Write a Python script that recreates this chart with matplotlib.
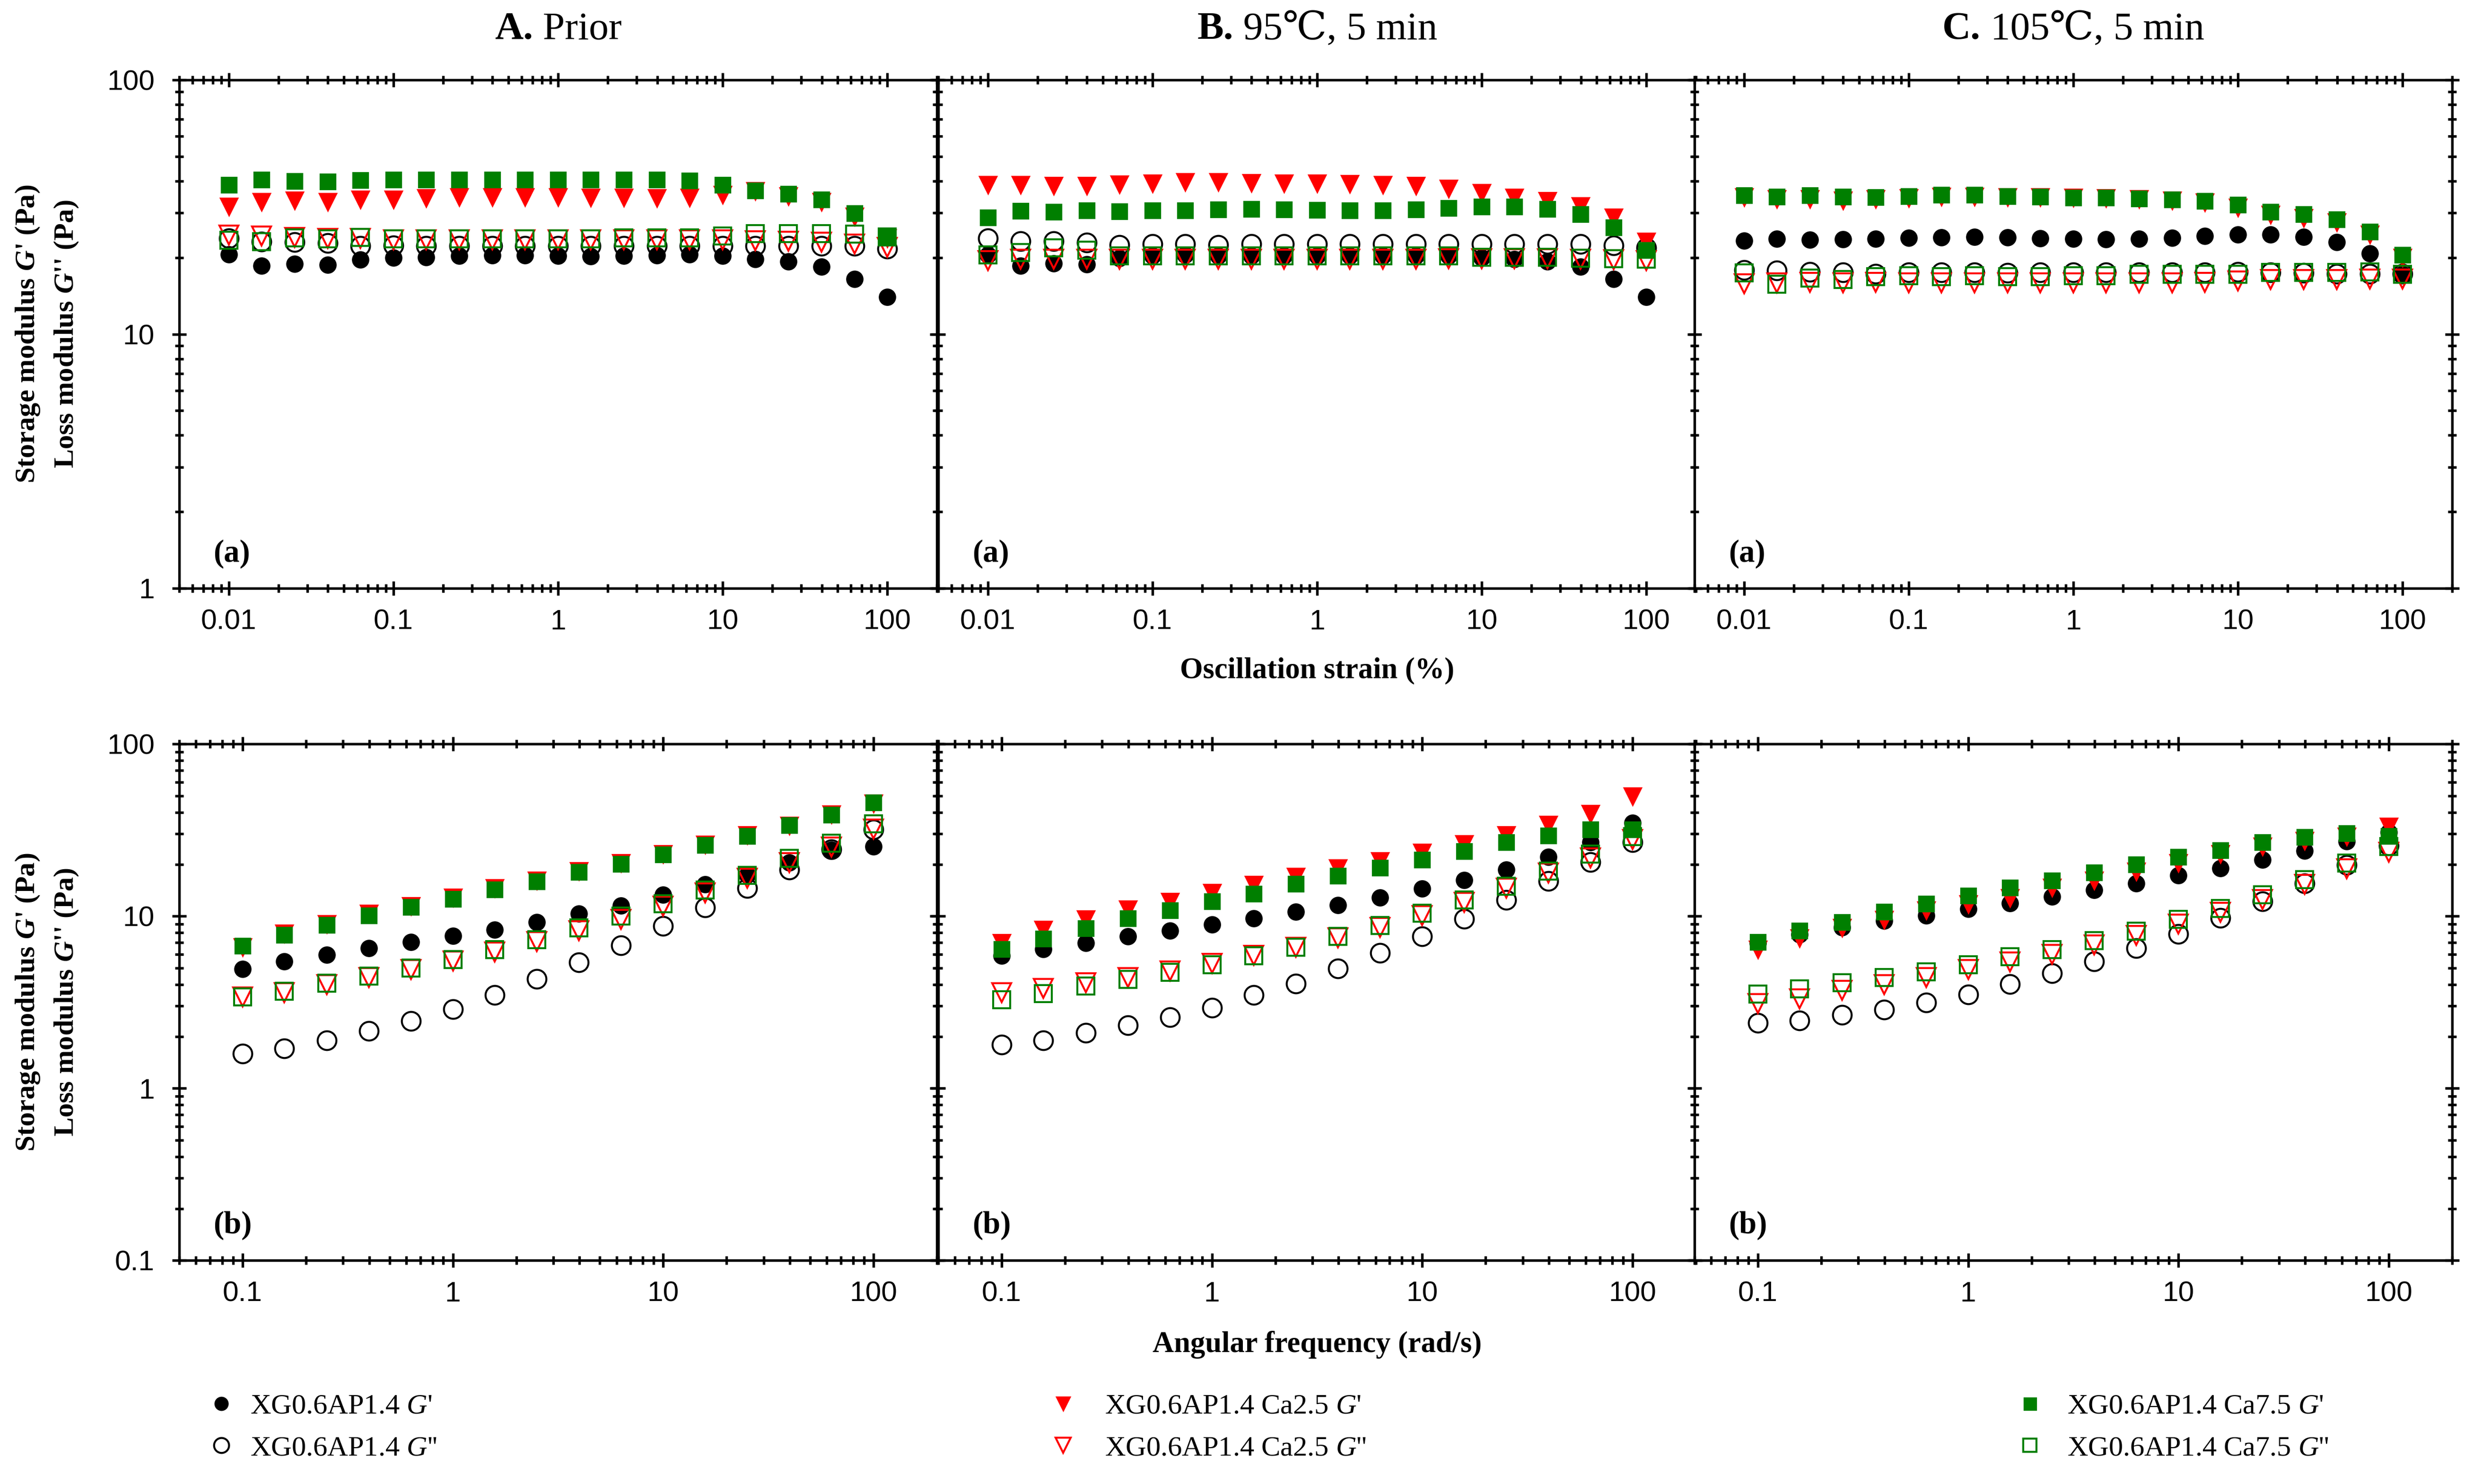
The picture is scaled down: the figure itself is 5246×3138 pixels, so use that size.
import numpy as np
import matplotlib
matplotlib.use('Agg')
import matplotlib.pyplot as plt
from matplotlib.ticker import LogLocator, FuncFormatter, NullFormatter

# Schriften
plt.rcParams['font.family'] = ['Liberation Serif', 'DejaVu Serif', 'Noto Sans CJK SC']
plt.rcParams['mathtext.fontset'] = 'custom'
plt.rcParams['mathtext.rm'] = 'Liberation Serif'
plt.rcParams['mathtext.it'] = 'Liberation Serif:italic'
plt.rcParams['mathtext.bf'] = 'Liberation Serif:bold'
plt.rcParams['mathtext.bfit'] = 'Liberation Serif:italic:bold'

# ---------------- Daten ----------------
strain = [0.01, 0.0158, 0.0251, 0.0398, 0.0631, 0.1, 0.158, 0.251, 0.398, 0.631,
          1, 1.58, 2.51, 3.98, 6.31, 10, 15.8, 25.1, 39.8, 63.1, 100]
freq = [0.1, 0.158, 0.251, 0.398, 0.631, 1, 1.58, 2.51, 3.98, 6.31,
        10, 15.8, 25.1, 39.8, 63.1, 100]

# (a) Amplitudentest, A. Prior
a_xg_g1 = [20.6, 18.6, 18.9, 18.7, 19.6, 20.0, 20.1, 20.3, 20.4, 20.4, 20.3,
           20.2, 20.3, 20.4, 20.6, 20.3, 19.7, 19.3, 18.4, 16.5, 14.0]
a_xg_g2 = [23.8, 23.1, 23.0, 22.8, 22.2, 22.3, 22.2, 22.2, 22.2, 22.2, 22.2,
           22.2, 22.2, 22.2, 22.2, 22.2, 22.2, 22.2, 22.2, 22.2, 21.7]
a_ca25_g1 = [31.7, 33.1, 33.6, 33.1, 33.8, 33.9, 34.3, 34.6, 34.6, 34.6, 34.6,
             34.4, 34.4, 34.3, 34.4, 35.3, 36.5, 34.8, 33.1, 29.0, 23.8]
a_ca25_g2 = [24.5, 24.3, 24.0, 23.8, 23.8, 23.5, 23.5, 23.5, 23.5, 23.5, 23.5,
             23.5, 23.5, 23.5, 23.5, 23.5, 23.3, 23.2, 23.0, 22.6, 22.0]
a_ca75_g1 = [38.6, 40.6, 40.0, 39.8, 40.3, 40.6, 40.6, 40.6, 40.6, 40.6, 40.6,
             40.6, 40.6, 40.5, 40.1, 38.6, 36.7, 35.7, 33.9, 29.9, 24.1]
a_ca75_g2 = [23.4, 23.1, 23.9, 23.7, 24.0, 23.7, 23.7, 23.7, 23.7, 23.7, 23.7,
             23.7, 23.9, 23.9, 23.9, 24.3, 24.9, 24.9, 24.9, 24.7, 24.1]

# (a) B. 95 C
b_xg_g1 = [20.5, 18.6, 19.0, 18.8, 19.9, 20.3, 20.5, 20.3, 20.3, 20.3, 20.3,
           20.3, 20.3, 20.3, 20.3, 20.0, 19.7, 19.3, 18.4, 16.5, 14.0]
b_xg_g2 = [23.8, 23.2, 23.2, 22.9, 22.4, 22.6, 22.6, 22.4, 22.6, 22.6, 22.6,
           22.6, 22.6, 22.6, 22.6, 22.6, 22.6, 22.6, 22.6, 22.3, 21.9]
b_ca25_g1 = [38.6, 38.6, 38.3, 38.3, 38.8, 39.1, 39.6, 39.6, 39.4, 39.1, 39.1,
             38.9, 38.6, 38.3, 37.3, 36.0, 34.4, 33.4, 31.9, 28.7, 23.1]
b_ca25_g2 = [19.5, 19.7, 19.7, 19.7, 19.7, 19.7, 19.7, 19.7, 19.7, 19.7, 19.7,
             19.7, 19.7, 19.7, 19.8, 19.8, 19.8, 19.8, 19.7, 19.6, 19.5]
b_ca75_g1 = [28.8, 30.6, 30.3, 30.7, 30.4, 30.7, 30.7, 30.9, 31.0, 30.9, 30.8,
             30.7, 30.7, 30.9, 31.3, 31.7, 31.7, 31.0, 29.6, 26.3, 21.4]
b_ca75_g2 = [20.5, 20.9, 21.9, 21.4, 20.3, 20.3, 20.3, 20.3, 20.3, 20.3, 20.3,
             20.3, 20.3, 20.3, 20.3, 20.1, 20.1, 20.1, 19.9, 19.8, 19.7]

# (a) C. 105 C
c_xg_g1 = [23.3, 23.7, 23.5, 23.6, 23.7, 23.9, 24.0, 24.1, 24.0, 23.8, 23.7,
           23.6, 23.7, 23.9, 24.3, 24.6, 24.6, 24.1, 23.0, 20.8, 17.2]
c_xg_g2 = [17.9, 17.8, 17.6, 17.5, 17.3, 17.5, 17.5, 17.5, 17.4, 17.5, 17.5,
           17.5, 17.5, 17.5, 17.5, 17.6, 17.5, 17.4, 17.3, 17.3, 17.3]
c_ca25_g1 = [34.6, 34.0, 34.0, 33.6, 34.0, 34.3, 34.7, 34.7, 34.6, 34.6, 34.4,
             34.3, 34.0, 33.6, 33.0, 31.5, 29.5, 28.6, 27.5, 24.6, 20.0]
c_ca25_g2 = [15.8, 15.9, 16.0, 15.9, 16.0, 15.9, 15.9, 15.9, 15.9, 15.9, 15.9,
             15.9, 15.9, 15.9, 16.0, 16.2, 16.4, 16.4, 16.4, 16.5, 16.5]
c_ca75_g1 = [35.1, 34.7, 35.1, 34.7, 34.6, 34.8, 35.3, 35.3, 34.8, 34.7, 34.4,
             34.4, 34.1, 33.8, 33.4, 32.3, 30.3, 29.6, 28.3, 25.3, 20.5]
c_ca75_g2 = [17.4, 15.7, 16.6, 16.4, 16.8, 17.0, 16.8, 17.0, 16.8, 16.8, 17.0,
             17.0, 17.2, 17.2, 17.2, 17.2, 17.5, 17.5, 17.5, 17.6, 17.2]

# (b) Frequenztest, A. Prior
d_xg_g1 = [4.93, 5.45, 5.95, 6.5, 7.05, 7.65, 8.35, 9.23, 10.3, 11.5,
           13.3, 15.3, 17.4, 20.5, 24.3, 25.4]
d_xg_g2 = [1.59, 1.70, 1.90, 2.15, 2.46, 2.88, 3.49, 4.31, 5.38, 6.77,
           8.76, 11.2, 14.5, 18.6, 24.4, 31.8]
d_ca25_g1 = [6.6, 7.9, 9.0, 10.3, 11.4, 12.8, 14.5, 16.1, 18.2, 20.3,
             22.9, 26.0, 29.5, 33.5, 39.0, 45.0]
d_ca25_g2 = [3.4, 3.6, 4.0, 4.4, 4.9, 5.5, 6.2, 7.1, 8.2, 9.6,
             11.4, 13.6, 16.6, 20.5, 25.2, 32.0]
d_ca75_g1 = [6.73, 7.78, 8.86, 10.1, 11.3, 12.6, 14.3, 15.9, 18.0, 20.1,
             22.7, 25.9, 29.2, 33.7, 38.8, 45.6]
d_ca75_g2 = [3.39, 3.66, 4.07, 4.47, 4.99, 5.58, 6.38, 7.3, 8.55, 10.0,
             11.8, 14.2, 17.2, 21.6, 26.5, 34.3]

# (b) B. 95 C
e_xg_g1 = [5.88, 6.42, 6.97, 7.61, 8.2, 8.91, 9.67, 10.6, 11.6, 12.8,
           14.4, 16.2, 18.6, 22.1, 26.8, 34.8]
e_xg_g2 = [1.79, 1.89, 2.10, 2.32, 2.59, 2.93, 3.47, 4.04, 4.96, 6.12,
           7.61, 9.62, 12.4, 16.0, 20.6, 26.9]
e_ca25_g1 = [6.97, 8.35, 9.56, 10.9, 12.1, 13.6, 15.2, 16.9, 18.9, 20.8,
             23.3, 26.2, 29.6, 33.9, 39.2, 49.5]
e_ca25_g2 = [3.6, 3.8, 4.1, 4.4, 4.8, 5.3, 5.9, 6.6, 7.5, 8.6,
             10.1, 12.0, 14.5, 17.8, 21.8, 27.8]
e_ca75_g1 = [6.42, 7.39, 8.5, 9.67, 10.8, 12.2, 13.5, 15.4, 17.1, 19.1,
             21.3, 23.8, 26.8, 29.4, 31.9, 31.9]
e_ca75_g2 = [3.27, 3.55, 3.93, 4.29, 4.71, 5.23, 5.88, 6.61, 7.61, 8.81,
             10.4, 12.4, 14.9, 18.2, 22.9, 28.9]

# (b) C. 105 C
f_xg_g1 = [6.97, 7.83, 8.6, 9.39, 10.1, 11.0, 11.9, 13.0, 14.2, 15.5,
           17.2, 19.0, 21.3, 24.0, 27.1, 30.6]
f_xg_g2 = [2.40, 2.47, 2.67, 2.86, 3.14, 3.51, 4.02, 4.65, 5.45, 6.5,
           7.88, 9.73, 12.2, 15.5, 19.8, 25.7]
f_ca25_g1 = [6.38, 7.43, 8.55, 9.5, 10.8, 11.7, 12.7, 14.6, 16.1, 18.1,
             20.3, 22.9, 25.3, 27.3, 28.9, 33.1]
f_ca25_g2 = [3.1, 3.3, 3.7, 4.0, 4.4, 4.9, 5.4, 6.0, 6.8, 7.7,
             9.0, 10.5, 12.5, 15.3, 18.8, 23.5]
f_ca75_g1 = [7.05, 8.2, 9.23, 10.6, 11.8, 13.1, 14.6, 16.1, 17.9, 19.9,
             22.1, 24.1, 26.8, 28.7, 30.3, 29.2]
f_ca75_g2 = [3.53, 3.77, 4.09, 4.39, 4.73, 5.23, 5.81, 6.38, 7.18, 8.16,
             9.56, 11.1, 13.3, 16.3, 20.3, 25.3]

title_heads = ['A.', 'B.', 'C.']
title_tails = [' Prior', ' 95℃, 5 min', ' 105℃, 5 min']
labels = [r"XG0.6AP1.4 $\mathit{G}$'", r"XG0.6AP1.4 $\mathit{G}$''",
          r"XG0.6AP1.4 Ca2.5 $\mathit{G}$'", r"XG0.6AP1.4 Ca2.5 $\mathit{G}$''",
          r"XG0.6AP1.4 Ca7.5 $\mathit{G}$'", r"XG0.6AP1.4 Ca7.5 $\mathit{G}$''"]

top_data = [[a_xg_g1, a_xg_g2, a_ca25_g1, a_ca25_g2, a_ca75_g1, a_ca75_g2],
            [b_xg_g1, b_xg_g2, b_ca25_g1, b_ca25_g2, b_ca75_g1, b_ca75_g2],
            [c_xg_g1, c_xg_g2, c_ca25_g1, c_ca25_g2, c_ca75_g1, c_ca75_g2]]
bot_data = [[d_xg_g1, d_xg_g2, d_ca25_g1, d_ca25_g2, d_ca75_g1, d_ca75_g2],
            [e_xg_g1, e_xg_g2, e_ca25_g1, e_ca25_g2, e_ca75_g1, e_ca75_g2],
            [f_xg_g1, f_xg_g2, f_ca25_g1, f_ca25_g2, f_ca75_g1, f_ca75_g2]]

# Marker-Stile: (marker, Farbe, gefuellt, Groesse)
RED = '#ff0000'
GREEN = '#007f00'
styles = [('o', 'black', True, 8.0), ('o', 'black', False, 9.5),
          ('v', RED, True, 8.5), ('v', RED, False, 9.5),
          ('s', GREEN, True, 7.5), ('s', GREEN, False, 8.5)]

# ---------------- Figur ----------------
fig = plt.figure(figsize=(5246 / 300, 3138 / 300), dpi=300)

lefts = [379 / 5246, 1984 / 5246, 3583 / 5246]
w = 1602 / 5246
top_b, top_h = 0.6036, 0.9461 - 0.6036
bot_b, bot_h = 0.1507, 0.4987 - 0.1507

tickfont = {'family': 'Liberation Sans', 'size': 14.5}


def style_axis(ax, xlim, ylim):
    ax.set_xscale('log')
    ax.set_yscale('log')
    ax.set_xlim(*xlim)
    ax.set_ylim(*ylim)
    for s in ax.spines.values():
        s.set_linewidth(1.3)
    ax.xaxis.set_major_locator(LogLocator(base=10, numticks=20))
    ax.xaxis.set_minor_locator(LogLocator(base=10, subs=np.arange(2, 10), numticks=50))
    ax.yaxis.set_major_locator(LogLocator(base=10, numticks=20))
    ax.yaxis.set_minor_locator(LogLocator(base=10, subs=np.arange(2, 10), numticks=50))
    ax.xaxis.set_major_formatter(FuncFormatter(lambda v, p: f'{v:g}'))
    ax.yaxis.set_major_formatter(FuncFormatter(lambda v, p: f'{v:g}'))
    ax.xaxis.set_minor_formatter(NullFormatter())
    ax.yaxis.set_minor_formatter(NullFormatter())
    ax.tick_params(which='both', direction='inout', top=True, right=True, width=1.3)
    ax.tick_params(which='major', length=7)
    ax.tick_params(which='minor', length=4.5)
    ax.tick_params(axis='x', which='major', pad=7)
    ax.tick_params(axis='y', which='major', pad=9)
    for lab in ax.get_xticklabels() + ax.get_yticklabels():
        lab.set_fontfamily(tickfont['family'])
        lab.set_fontsize(tickfont['size'])


def draw(ax, x, series):
    handles = []
    for ys, (m, c, filled, ms) in zip(series, styles):
        if filled:
            h, = ax.plot(x, ys, linestyle='none', marker=m, ms=ms,
                         mfc=c, mec=c, mew=0.8)
        else:
            h, = ax.plot(x, ys, linestyle='none', marker=m, ms=ms,
                         mfc='none', mec=c, mew=1.0)
        handles.append(h)
    return handles


handles = None
for i in range(3):
    ax = fig.add_axes([lefts[i], top_b, w, top_h])
    h = draw(ax, strain, top_data[i])
    if handles is None:
        handles = h
    style_axis(ax, (0.005, 200), (1, 100))
    if i > 0:
        ax.set_yticklabels([])
    ax.text(0.045, 0.068, '(a)', transform=ax.transAxes, fontsize=16,
            fontweight='bold', ha='left', va='center')

    ax2 = fig.add_axes([lefts[i], bot_b, w, bot_h])
    draw(ax2, freq, bot_data[i])
    style_axis(ax2, (0.05, 200), (0.1, 100))
    if i > 0:
        ax2.set_yticklabels([])
    ax2.text(0.045, 0.068, '(b)', transform=ax2.transAxes, fontsize=16,
             fontweight='bold', ha='left', va='center')

# Titel: fetter Buchstabe + normaler Text, zusammen zentriert
renderer = fig.canvas.get_renderer()
for i in range(3):
    xc = lefts[i] + w / 2
    t1 = fig.text(xc, 0.980, title_heads[i], fontsize=20, fontweight='bold',
                  ha='left', va='center')
    t2 = fig.text(xc, 0.980, title_tails[i], fontsize=20,
                  ha='left', va='center')
    w1 = t1.get_window_extent(renderer).width / fig.bbox.width
    w2 = t2.get_window_extent(renderer).width / fig.bbox.width
    x0 = xc - (w1 + w2) / 2
    t1.set_x(x0)
    t2.set_x(x0 + w1)

# Achsenbeschriftungen
mid_x = lefts[1] + w / 2
fig.text(mid_x, 0.548, 'Oscillation strain (%)', fontsize=15, fontweight='bold',
         ha='center', va='center')
fig.text(mid_x, 0.094, 'Angular frequency (rad/s)', fontsize=15, fontweight='bold',
         ha='center', va='center')

for yc in [top_b + top_h / 2, bot_b + bot_h / 2]:
    fig.text(0.0112, yc, r"Storage modulus $\mathbfit{G}$' (Pa)", rotation=90,
             fontsize=14.5, fontweight='bold', ha='center', va='center')
    fig.text(0.0268, yc, r"Loss modulus $\mathbfit{G}$'' (Pa)", rotation=90,
             fontsize=14.5, fontweight='bold', ha='center', va='center')

# Legende in drei Spalten
leg_x = [438 / 5246, 2218 / 5246, 4262 / 5246]
leg_pad = [0.5, 0.95, 0.8]
for k in range(3):
    fig.legend(handles[2 * k:2 * k + 2], labels[2 * k:2 * k + 2],
               loc='upper left', bbox_to_anchor=(leg_x[k], 0.061),
               frameon=False, fontsize=14.5, handlelength=1.0,
               handletextpad=leg_pad[k], labelspacing=0.55, borderpad=0,
               borderaxespad=0, markerscale=0.8)

fig.savefig('out.png', dpi=300)
